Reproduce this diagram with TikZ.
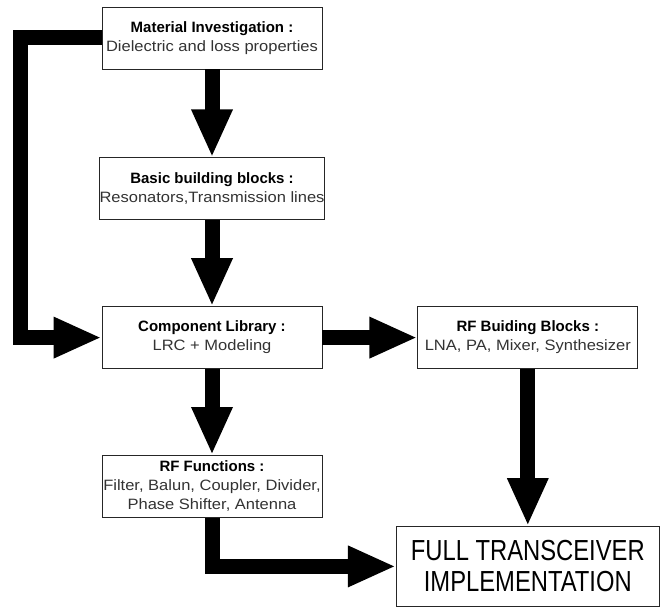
\documentclass[tikz,border=0pt]{standalone}
\usepackage{fontspec}
\setmainfont{Liberation Sans}[FakeStretch=1.1]
\newfontfamily\titlefont{Liberation Sans}
\newfontfamily\bigfont{Liberation Sans}[FakeStretch=0.82]
\usetikzlibrary{positioning,arrows.meta}
\tikzset{
  block/.style={draw=black!85, line width=0.8pt, fill=white, minimum width=220pt,
    minimum height=62pt, inner sep=0pt, align=center, text=black!80,
    font=\fontsize{15}{19}\selectfont},
  bigblock/.style={block, minimum width=263pt, minimum height=80pt, text=black,
    font=\bigfont\fontsize{29}{31}\selectfont},
  flow/.style={line width=15pt, -{Triangle[width=38pt,length=48pt]}},
}
\newcommand{\btitle}[1]{{\titlefont\bfseries\color{black}#1}}

\begin{document}
\begin{tikzpicture}[x=1pt,y=-1pt]
\useasboundingbox (0,0) rectangle (662,607);
\node[block] (mat) at (212,38) {\btitle{Material Investigation :}\\Dielectric and loss properties};
\node[block, below=88pt of mat] (basic) {\btitle{Basic building blocks :}\\Resonators,Transmission lines};
\node[block, below=86pt of basic] (comp) {\btitle{Component Library :}\\LRC + Modeling};
\node[block, right=95pt of comp] (rfb) {\btitle{RF Buiding Blocks :}\\LNA, PA, Mixer, Synthesizer};
\node[block, below=86pt of comp] (func) {\btitle{RF Functions :}\\Filter, Balun, Coupler, Divider,\\Phase Shifter, Antenna};
\node[bigblock, below=157pt of rfb] (full) {FULL TRANSCEIVER\\IMPLEMENTATION};

\draw[flow] (mat) -- (basic);
\draw[flow] (basic) -- (comp);
\draw[flow] (mat.west) -- ++(-81,0) |- (comp.west);
\draw[flow] (comp) -- (rfb);
\draw[flow] (comp) -- (func);
\draw[flow] (rfb) -- (full);
\draw[flow] (func.south) |- (full.west);
\end{tikzpicture}
\end{document}
